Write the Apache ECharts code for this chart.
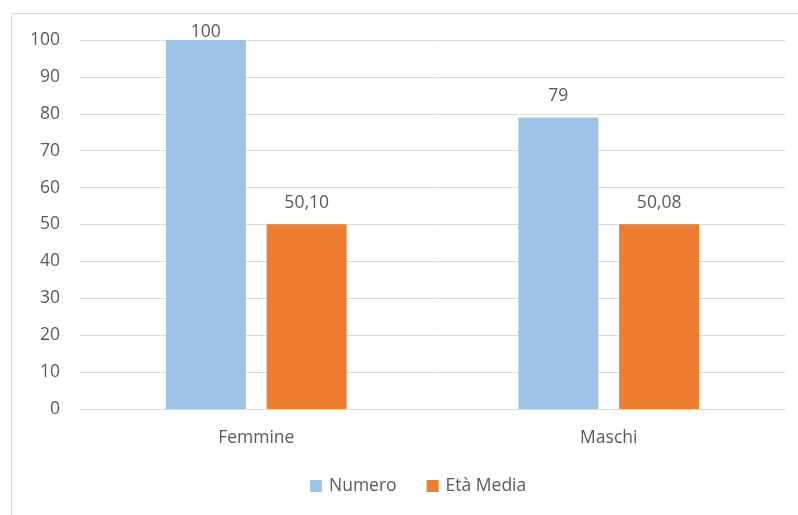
<!DOCTYPE html>
<html><head><meta charset="utf-8">
<script src="https://cdn.jsdelivr.net/npm/echarts@6/dist/echarts.min.js"></script>
<style>html,body{margin:0;padding:0;background:#fff}#c{width:798px;height:515px}</style>
</head><body><div id="c"></div>
<script>
const categories = ['Femmine', 'Maschi'];
const numero = [100, 79];
const etaMedia = [50.10, 50.08];
const yTicks = [0, 10, 20, 30, 40, 50, 60, 70, 80, 90, 100];

const chart = echarts.init(document.getElementById('c'), null, {renderer: 'canvas'});
const font = '"Open Sans", "Liberation Sans", sans-serif';
const txt = '#595959';
const fs = 17.5;
chart.setOption({
  animation: false,
  textStyle: {fontFamily: font},
  graphic: [{type: 'rect', shape: {x: 11.5, y: 13.5, width: 800, height: 520}, style: {fill: 'none', stroke: '#d9d9d9', lineWidth: 1}}],
  grid: {left: 80, right: 13, top: 40, bottom: 106},
  legend: {
    bottom: 15, left: 305, itemWidth: 12, itemHeight: 12, itemGap: 30,
    icon: 'rect', textStyle: {fontSize: fs, color: txt, fontFamily: font, padding: [0, 0, 0, 2]},
    data: ['Numero', 'Età Media']
  },
  xAxis: {
    type: 'category', data: categories,
    axisLine: {lineStyle: {color: '#d9d9d9'}}, axisTick: {show: false},
    axisLabel: {fontSize: fs, color: txt, margin: 20, fontFamily: font}
  },
  yAxis: {
    type: 'value', min: yTicks[0], max: yTicks[yTicks.length - 1], interval: 10,
    axisLine: {show: false}, axisTick: {show: false},
    splitLine: {lineStyle: {color: '#d9d9d9'}},
    axisLabel: {fontSize: fs, color: txt, margin: 20, fontFamily: font}
  },
  series: [
    {name: 'Numero', type: 'bar',
     data: numero.map((v, i) => i === 0 ? {value: v, label: {distance: -1}} : v),
     barWidth: 80, barGap: '26%',
     itemStyle: {color: '#9dc3e6'},
     label: {show: true, position: 'top', distance: 12, fontSize: fs, color: txt, fontFamily: font,
       formatter: p => String(p.value).replace('.', ',')}},
    {name: 'Età Media', type: 'bar', data: etaMedia, barWidth: 80,
     itemStyle: {color: '#ed7d31'},
     label: {show: true, position: 'top', distance: 12, fontSize: fs, color: txt, fontFamily: font,
       formatter: p => p.value.toFixed(2).replace('.', ',')}}
  ]
});
</script></body></html>
